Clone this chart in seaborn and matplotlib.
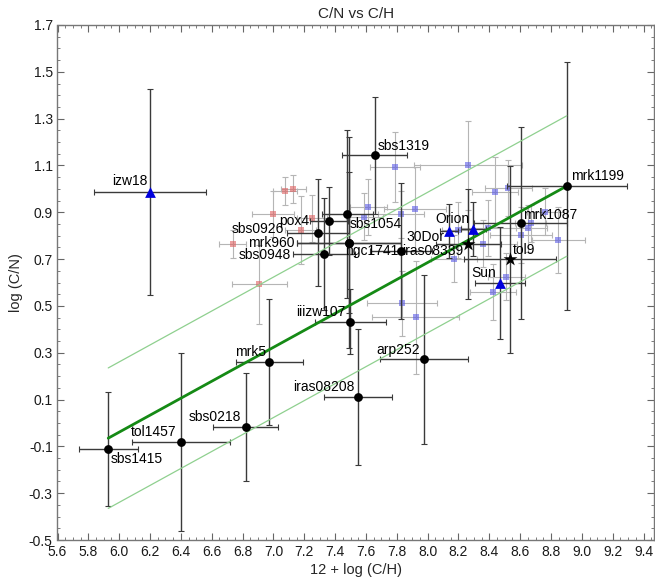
import numpy as np
import pandas as pd
import matplotlib
matplotlib.use("Agg")
import matplotlib.pyplot as plt
import matplotlib.ticker as mticker
import seaborn as sns

# Labelled objects: x = 12 + log(C/H), y = log(C/N)
names = ['izw18', 'sbs1415', 'tol1457', 'sbs0218', 'mrk5', 'iiizw107', 'iras08208',
         'arp252', 'sbs1319', 'sbs1054', 'pox4', 'sbs0926', 'mrk960', 'ngc1741',
         'sbs0948', 'iras08339', 'mrk1087', 'mrk1199', '30Dor', 'tol9', 'Orion', '', 'Sun']
kinds = ['tri', 'dot', 'dot', 'dot', 'dot', 'dot', 'dot',
         'dot', 'dot', 'dot', 'dot', 'dot', 'dot', 'dot',
         'dot', 'dot', 'dot', 'dot', 'star', 'star', 'tri', 'tri', 'tri']
ch = [6.200, 5.929, 6.401, 6.820, 6.974, 7.497, 7.547,
      7.977, 7.657, 7.479, 7.361, 7.287, 7.490, 7.490,
      7.328, 7.826, 8.604, 8.902, 8.264, 8.535, 8.297, 8.139, 8.470]
cn = [0.985, -0.111, -0.080, -0.017, 0.260, 0.433, 0.110,
      0.272, 1.143, 0.893, 0.864, 0.813, 0.770, 0.770,
      0.722, 0.733, 0.853, 1.012, 0.763, 0.699, 0.830, 0.819, 0.599]
ch_err = [0.365, 0.19, 0.32, 0.21, 0.215, 0.23, 0.22,
          0.285, 0.21, 0.165, 0.125, 0.20, 0.34, 0.34,
          0.20, 0.20, 0.30, 0.39, 0.21, 0.30, 0.08, 0.06, 0.16]
cn_err = [0.44, 0.245, 0.38, 0.23, 0.27, 0.14, 0.29,
          0.36, 0.25, 0.36, 0.145, 0.23, 0.30, 0.45,
          0.24, 0.29, 0.41, 0.53, 0.235, 0.40, 0.115, 0.115, 0.24]

# label offsets in points (dx, dy, ha, va)
label_pos = [(-2, 3, 'right', 'bottom'), (2, -2, 'left', 'top'), (-3, 2, 'right', 'bottom'),
             (-3, 2, 'right', 'bottom'), (-2, 2, 'right', 'bottom'), (-3, 2, 'right', 'bottom'),
             (-2, 2, 'right', 'bottom'), (-3, 2, 'right', 'bottom'), (2, 2, 'left', 'bottom'),
             (2, -2, 'left', 'top'), (-14, 0, 'right', 'center'), (-24, 2.5, 'right', 'center'),
             (-39, 0, 'right', 'center'), (-3, -1, 'left', 'top'), (-24, -1, 'right', 'center'),
             (1, 0, 'left', 'center'), (2, 1, 'left', 'bottom'), (3, 2, 'left', 'bottom'),
             (-17, 0, 'right', 'bottom'), (2, 2, 'left', 'bottom'), (-3, 2, 'right', 'bottom'),
             (0, 0, 'left', 'bottom'), (-3, 2, 'right', 'bottom')]

# faded comparison samples
red_x = [7.075, 7.129, 6.998, 7.250, 7.177, 6.735, 6.909]
red_y = [0.991, 1.001, 0.893, 0.874, 0.823, 0.763, 0.592]
red_xerr = [0.08, 0.08, 0.135, 0.10, 0.10, 0.09, 0.18]
red_yerr = [0.06, 0.06, 0.10, 0.10, 0.145, 0.06, 0.17]

blue_x = [7.789, 8.264, 7.616, 7.588, 7.826, 7.918, 8.437, 8.524, 8.762, 8.669, 8.653,
          8.604, 8.848, 8.394, 8.361, 8.196, 8.173, 8.509, 8.426, 7.834, 7.922]
blue_y = [1.095, 1.101, 0.924, 0.881, 0.891, 0.913, 0.985, 1.003, 0.903, 0.853, 0.832,
          0.802, 0.782, 0.834, 0.765, 0.824, 0.702, 0.624, 0.561, 0.511, 0.451]
blue_xerr = [0.16, 0.35, 0.12, 0.12, 0.15, 0.20, 0.15, 0.15, 0.12, 0.10, 0.12,
             0.20, 0.17, 0.18, 0.22, 0.10, 0.15, 0.12, 0.15, 0.23, 0.28]
blue_yerr = [0.15, 0.19, 0.12, 0.10, 0.10, 0.18, 0.15, 0.12, 0.10, 0.08, 0.10,
             0.12, 0.14, 0.12, 0.10, 0.12, 0.10, 0.10, 0.12, 0.14, 0.24]

# linear fit and +/- band
fit_x = [5.929, 8.902]
fit_y = [-0.065, 1.012]
band = 0.30

x_ticks = [5.6, 5.8, 6.0, 6.2, 6.4, 6.6, 6.8, 7.0, 7.2, 7.4, 7.6, 7.8, 8.0,
           8.2, 8.4, 8.6, 8.8, 9.0, 9.2, 9.4]
y_ticks = [-0.5, -0.3, -0.1, 0.1, 0.3, 0.5, 0.7, 0.9, 1.1, 1.3, 1.5, 1.7]

sns.set_style('ticks')
plt.rcParams['font.family'] = ['Liberation Sans', 'DejaVu Sans']

df = pd.DataFrame({'name': names, 'kind': kinds, 'x': ch, 'y': cn,
                   'xerr': ch_err, 'yerr': cn_err})
red = pd.DataFrame({'x': red_x, 'y': red_y})
blue = pd.DataFrame({'x': blue_x, 'y': blue_y})

fig = plt.figure(figsize=(6.55, 5.8), dpi=100)
ax = fig.add_axes([57.5 / 655, 40 / 580, 596.5 / 655, 515 / 580])

# faded samples
ax.errorbar(red_x, red_y, xerr=red_xerr, yerr=red_yerr, fmt='none',
            ecolor='#b5b5b5', elinewidth=0.8, capsize=2, capthick=0.8, zorder=1)
ax.errorbar(blue_x, blue_y, xerr=blue_xerr, yerr=blue_yerr, fmt='none',
            ecolor='#b5b5b5', elinewidth=0.8, capsize=2, capthick=0.8, zorder=1)
sns.scatterplot(data=red, x='x', y='y', ax=ax, marker='s', s=22, color='#e06060',
                alpha=0.6, linewidth=0, zorder=2)
sns.scatterplot(data=blue, x='x', y='y', ax=ax, marker='s', s=22, color='#5a5ae6',
                alpha=0.6, linewidth=0, zorder=2)

# labelled objects error bars
ax.errorbar(df['x'], df['y'], xerr=df['xerr'], yerr=df['yerr'], fmt='none',
            ecolor='#3a3a3a', elinewidth=1.0, capsize=2.5, capthick=0.8, zorder=3)

# fit lines
fit = pd.DataFrame({'x': fit_x, 'y': fit_y})
sns.lineplot(data=fit, x='x', y='y', ax=ax, color='#158a15', linewidth=2, zorder=4)
for sgn in (1, -1):
    ax.plot(fit_x, [v + sgn * band for v in fit_y], color='#8fd08f', linewidth=0.9, zorder=4)

marker_style = {'dot': ('o', 'black', 40), 'star': ('*', 'black', 110), 'tri': ('^', '#0000dd', 60)}
for kind, (mk, col, size) in marker_style.items():
    sub = df[df['kind'] == kind]
    sns.scatterplot(data=sub, x='x', y='y', ax=ax, marker=mk, s=size, color=col,
                    linewidth=0, zorder=5)

for (name, x, y), (dx, dy, ha, va) in zip(zip(names, ch, cn), label_pos):
    if name:
        ax.annotate(name, (x, y), xytext=(dx, dy), textcoords='offset points',
                    ha=ha, va=va, fontsize=10, color='black', zorder=6)

ax.set_xlim(5.6, 9.468)
ax.set_ylim(-0.5, 1.7)
ax.xaxis.set_major_locator(mticker.FixedLocator(x_ticks))
ax.yaxis.set_major_locator(mticker.FixedLocator(y_ticks))
ax.xaxis.set_minor_locator(mticker.MultipleLocator(0.05))
ax.yaxis.set_minor_locator(mticker.MultipleLocator(0.05))
ax.xaxis.set_major_formatter(mticker.FormatStrFormatter('%.1f'))
ax.yaxis.set_major_formatter(mticker.FormatStrFormatter('%.1f'))
ax.tick_params(which='both', direction='in', top=True, right=True, color='#666666',
               labelsize=10, labelcolor='#1a1a1a')
ax.tick_params(which='major', length=5, width=0.8)
ax.tick_params(which='minor', length=2.5, width=0.6)
for sp in ax.spines.values():
    sp.set_color('#777777')
    sp.set_linewidth(1.0)

ax.set_xlabel('12 + log (C/H)', fontsize=10.5, labelpad=3)
ax.set_ylabel('log (C/N)', fontsize=10.5, labelpad=4)
ax.set_title('C/N vs C/H', fontsize=11, pad=5)

fig.savefig('out.png', dpi=100)
